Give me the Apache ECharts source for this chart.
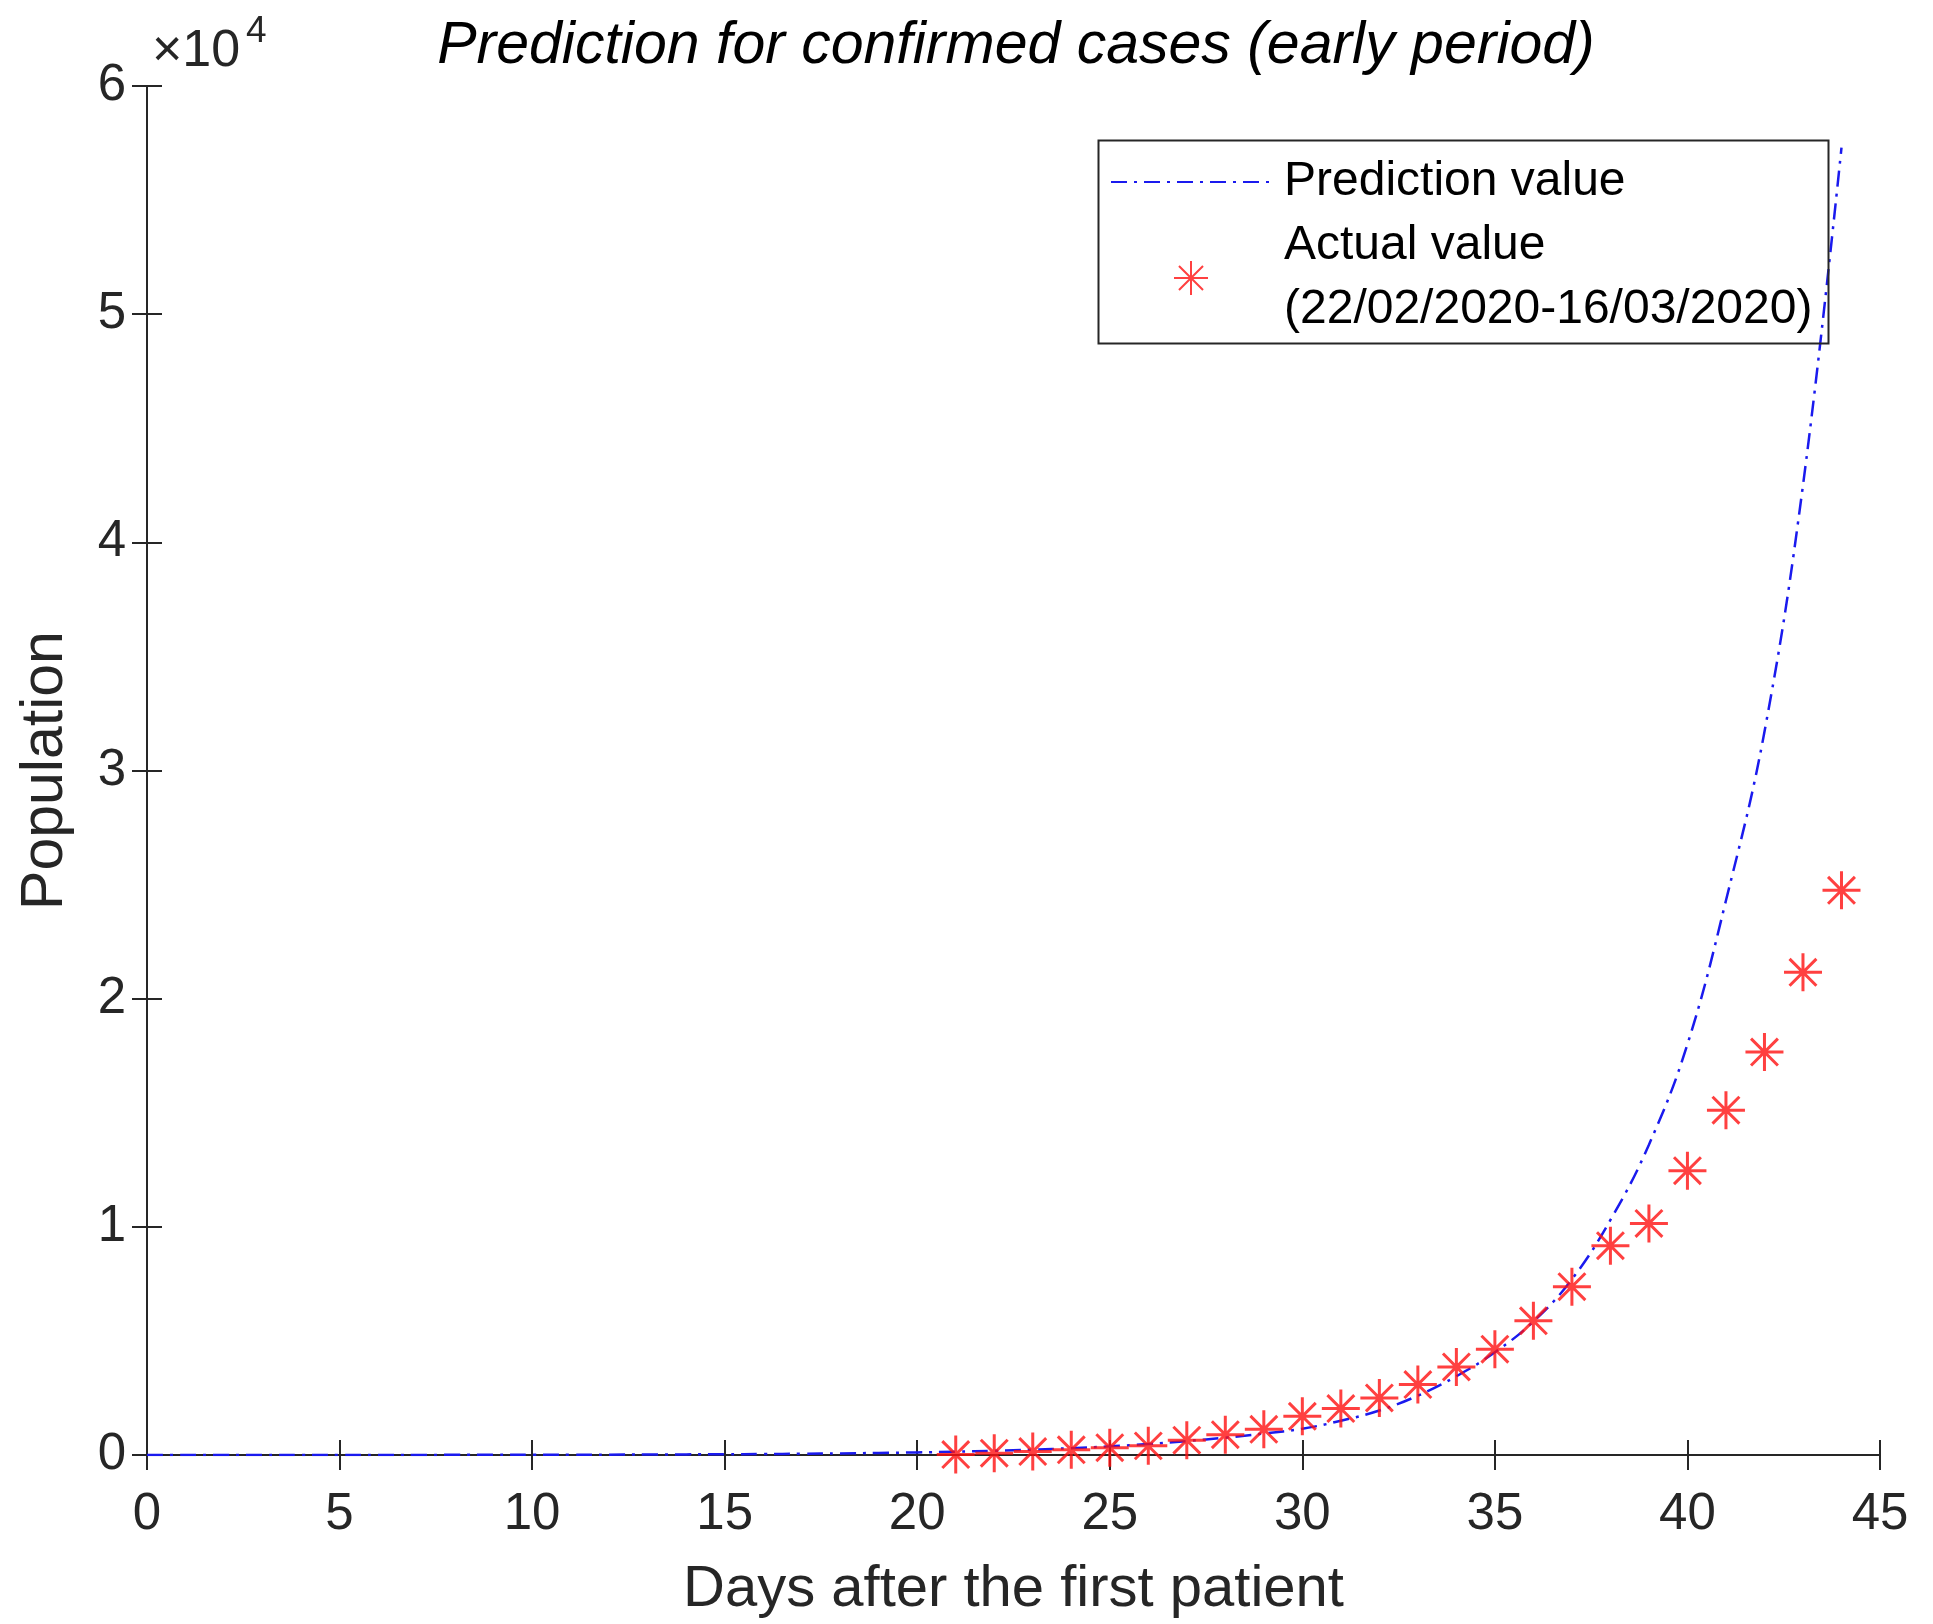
<!DOCTYPE html>
<html>
<head>
<meta charset="utf-8">
<script src="https://cdn.jsdelivr.net/npm/echarts@6/dist/echarts.min.js"></script>
<style>
html,body{margin:0;padding:0;background:#fff;}
#main{width:1933px;height:1624px;}
</style>
</head>
<body>
<div id="main"></div>
<script>
// ---- data ----
var xTicks = [0, 5, 10, 15, 20, 25, 30, 35, 40, 45];
var yTicks = [0, 1, 2, 3, 4, 5, 6]; // ×10^4
var predDays = [0,1,2,3,4,5,6,7,8,9,10,11,12,13,14,15,16,17,18,19,20,21,22,23,24,25,26,27,28,29,30,31,32,33,34,35,36,37,38,39,40,41,42,43,44];
var predValues = [1,1,1,2,2,3,4,5,6,8,10,13,16,21,27,34,43,55,70,90,115,145,185,235,300,380,480,610,760,940,1150,1500,1950,2600,3450,4500,5850,7700,10300,13600,18000,24300,31700,42500,57300];
var actualDays = [21,22,23,24,25,26,27,28,29,30,31,32,33,34,35,36,37,38,39,40,41,42,43,44];
var actualValues = [20,79,152,229,322,400,650,888,1128,1694,2036,2502,3089,3858,4636,5883,7375,9172,10149,12462,15113,17660,21157,24747];
var seriesNames = ['Prediction value', 'Actual value\n(22/02/2020-16/03/2020)'];

var FONT = '"Liberation Sans", Arial, Helvetica, sans-serif';
var TXT = '#262626';
var STAR = 'path://M0,-10 L0,10 M-10,0 L10,0 M-7.07,-7.07 L7.07,7.07 M-7.07,7.07 L7.07,-7.07';
var BLUE = '#1a1aee';
var RED = '#ff1010';

function pairs(xs, ys) { return xs.map(function (x, i) { return [x, ys[i]]; }); }

var chart = echarts.init(document.getElementById('main'), null, {renderer: 'canvas'});

var axisCommon = {
  axisLine: {show: true, lineStyle: {color: TXT, width: 2}},
  axisTick: {show: true, inside: true, length: 15, lineStyle: {color: TXT, width: 2}},
  splitLine: {show: false}
};

chart.setOption({
  backgroundColor: '#fff',
  animation: false,
  title: {
    text: 'Prediction for confirmed cases (early period)',
    left: 1011, top: 12, textAlign: 'center',
    textStyle: {fontFamily: FONT, fontSize: 59, fontStyle: 'italic', fontWeight: 'normal', color: '#000'}
  },
  grid: {left: 147, right: 53, top: 86, bottom: 169, containLabel: false, outerBoundsMode: 'none'},
  legend: {
    show: true,
    orient: 'vertical',
    left: 1110, top: 150,
    padding: 0,
    itemGap: 0,
    itemWidth: 160, itemHeight: 34,
    data: [
      {name: seriesNames[0], itemStyle: {opacity: 0, color: 'rgba(0,0,0,0)', borderWidth: 0}},
      {name: seriesNames[1]}
    ],
    textStyle: {fontFamily: FONT, fontSize: 48, lineHeight: 64, color: '#000', padding: [0, 0, 0, 8]}
  },
  xAxis: [
    Object.assign({
      type: 'value', min: 0, max: 45, interval: 5, position: 'bottom',
      name: 'Days after the first patient', nameLocation: 'middle', nameGap: 106,
      nameTextStyle: {fontFamily: FONT, fontSize: 58, color: TXT},
      axisLabel: {fontFamily: FONT, fontSize: 51, color: TXT, margin: 34,
        formatter: function (v) { return xTicks.indexOf(v) >= 0 ? String(v) : ''; }}
    }, axisCommon),
    Object.assign({
      type: 'value', min: 0, max: 45, interval: 5, position: 'top',
      axisLabel: {show: false}
    }, axisCommon)
  ],
  yAxis: [
    Object.assign({
      type: 'value', min: 0, max: 60000, interval: 10000, position: 'left',
      name: 'Population', nameLocation: 'middle', nameGap: 72,
      nameTextStyle: {fontFamily: FONT, fontSize: 59, color: TXT},
      axisLabel: {fontFamily: FONT, fontSize: 51, color: TXT, margin: 21,
        formatter: function (v) { return String(yTicks[Math.round(v / 10000)]); }}
    }, axisCommon),
    Object.assign({
      type: 'value', min: 0, max: 60000, interval: 10000, position: 'right',
      axisLabel: {show: false}
    }, axisCommon)
  ],
  graphic: [
    {
      type: 'rect', left: 1096, top: 138, z: 50,
      shape: {width: 730, height: 203},
      style: {fill: 'none', stroke: TXT, lineWidth: 2}
    },
    {
      type: 'text', left: 152, top: 26, z: 50,
      style: {text: '×10', fontFamily: FONT, fontSize: 52, fill: TXT}
    },
    {
      type: 'text', left: 246, top: 13, z: 50,
      style: {text: '4', fontFamily: FONT, fontSize: 37, fill: TXT}
    }
  ],
  series: [
    {
      name: seriesNames[0], type: 'line', xAxisIndex: 0, yAxisIndex: 0,
      data: pairs(predDays, predValues),
      showSymbol: false, symbol: 'none',
      smooth: 0.4,
      lineStyle: {color: BLUE, width: 2.5, type: [16, 7, 3, 7]},
      itemStyle: {color: BLUE},
      z: 3
    },
    {
      name: seriesNames[1], type: 'scatter', xAxisIndex: 0, yAxisIndex: 0,
      data: pairs(actualDays, actualValues),
      symbol: STAR, symbolSize: 38,
      itemStyle: {color: 'rgba(0,0,0,0)', borderColor: RED, borderWidth: 3},
      z: 4
    }
  ]
});
</script>
</body>
</html>
